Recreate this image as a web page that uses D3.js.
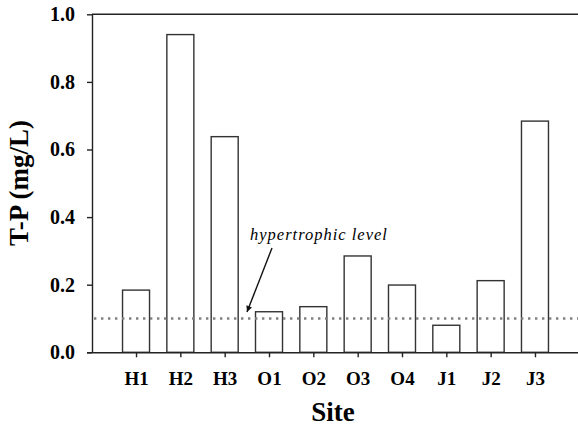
<!DOCTYPE html>
<html>
<head>
<meta charset="utf-8">
<script src="https://cdn.jsdelivr.net/npm/d3@7"></script>
<style>
  html, body { margin: 0; padding: 0; background: #fff; }
  svg { display: block; }
  text { font-family: "Liberation Serif", "Times New Roman", serif; }
</style>
</head>
<body>
<svg id="chart" width="578" height="427"></svg>
<script>
// Total phosphorus by sampling site
const sites = ["H1", "H2", "H3", "O1", "O2", "O3", "O4", "J1", "J2", "J3"];
const tpValues = [0.184, 0.940, 0.638, 0.120, 0.135, 0.285, 0.199, 0.080, 0.212, 0.684];
const yTicks = [0.0, 0.2, 0.4, 0.6, 0.8, 1.0];
const hypertrophicLevel = 0.1;

const plotLeft = 92, plotRight = 578, plotTop = 14.3, plotBottom = 352.3;

const svg = d3.select("#chart");

const x = d3.scalePoint().domain(sites).range([91.7, 579.3]).padding(1);
const y = d3.scaleLinear().domain([0, 1]).range([plotBottom, plotTop]);
const barW = 27;

// Bars
svg.append("g")
  .selectAll("rect")
  .data(sites.map((s, i) => ({ site: s, v: tpValues[i] })))
  .join("rect")
  .attr("x", d => x(d.site) - barW / 2)
  .attr("y", d => y(d.v))
  .attr("width", barW)
  .attr("height", d => y(0) - y(d.v))
  .attr("fill", "#fff")
  .attr("stroke", "#333")
  .attr("stroke-width", 1.4);

// Hypertrophic threshold
svg.append("line")
  .attr("x1", plotLeft + 2).attr("x2", plotRight)
  .attr("y1", y(hypertrophicLevel)).attr("y2", y(hypertrophicLevel))
  .attr("stroke", "#808080")
  .attr("stroke-width", 2.6)
  .attr("stroke-dasharray", "2.4,4.6");

// Top frame line
svg.append("line")
  .attr("x1", plotLeft).attr("x2", plotRight)
  .attr("y1", plotTop).attr("y2", plotTop)
  .attr("stroke", "#222").attr("stroke-width", 1.4);

// Y axis
const yAxis = svg.append("g")
  .attr("transform", `translate(${plotLeft},0)`)
  .call(d3.axisLeft(y).tickValues(yTicks).tickFormat(d3.format(".1f")).tickSize(5).tickSizeOuter(0).tickPadding(12));
yAxis.select(".domain").attr("stroke", "#222").attr("stroke-width", 1.4);
yAxis.selectAll(".tick line").attr("stroke", "#222").attr("stroke-width", 1.4);
yAxis.selectAll(".tick text")
  .attr("fill", "#000")
  .style("font-family", "'Liberation Serif', serif")
  .style("font-weight", "bold")
  .style("font-size", "20px");

// X axis
const xAxis = svg.append("g")
  .attr("transform", `translate(0,${plotBottom})`)
  .call(d3.axisBottom(x).tickSize(5).tickSizeOuter(0).tickPadding(14));
xAxis.select(".domain").attr("d", `M${plotLeft - 5},0.5H${plotRight}`).attr("stroke", "#222").attr("stroke-width", 1.4);
xAxis.selectAll(".tick line").attr("stroke", "#222").attr("stroke-width", 1.4);
xAxis.selectAll(".tick text")
  .attr("fill", "#000")
  .style("font-family", "'Liberation Serif', serif")
  .style("font-weight", "bold")
  .style("font-size", "19px");

// Axis titles
svg.append("text")
  .attr("transform", "translate(28,183) rotate(-90)")
  .attr("text-anchor", "middle")
  .style("font-weight", "bold")
  .style("font-size", "27px")
  .text("T-P (mg/L)");

svg.append("text")
  .attr("x", 333).attr("y", 421)
  .attr("text-anchor", "middle")
  .style("font-weight", "bold")
  .style("font-size", "27px")
  .text("Site");

// Annotation with arrow
const defs = svg.append("defs");
defs.append("marker")
  .attr("id", "arrowhead")
  .attr("viewBox", "0 0 10 10")
  .attr("refX", 10).attr("refY", 5)
  .attr("markerWidth", 9).attr("markerHeight", 6)
  .attr("markerUnits", "userSpaceOnUse")
  .attr("orient", "auto")
  .append("path")
  .attr("d", "M0,0L10,5L0,10Z")
  .attr("fill", "#111");

svg.append("line")
  .attr("x1", 272).attr("y1", 248)
  .attr("x2", 247).attr("y2", 312)
  .attr("stroke", "#111").attr("stroke-width", 1.4)
  .attr("marker-end", "url(#arrowhead)");

svg.append("text")
  .attr("x", 250).attr("y", 240)
  .style("font-style", "italic")
  .style("font-size", "16.5px")
  .style("letter-spacing", "1px")
  .text("hypertrophic level");
</script>
</body>
</html>
